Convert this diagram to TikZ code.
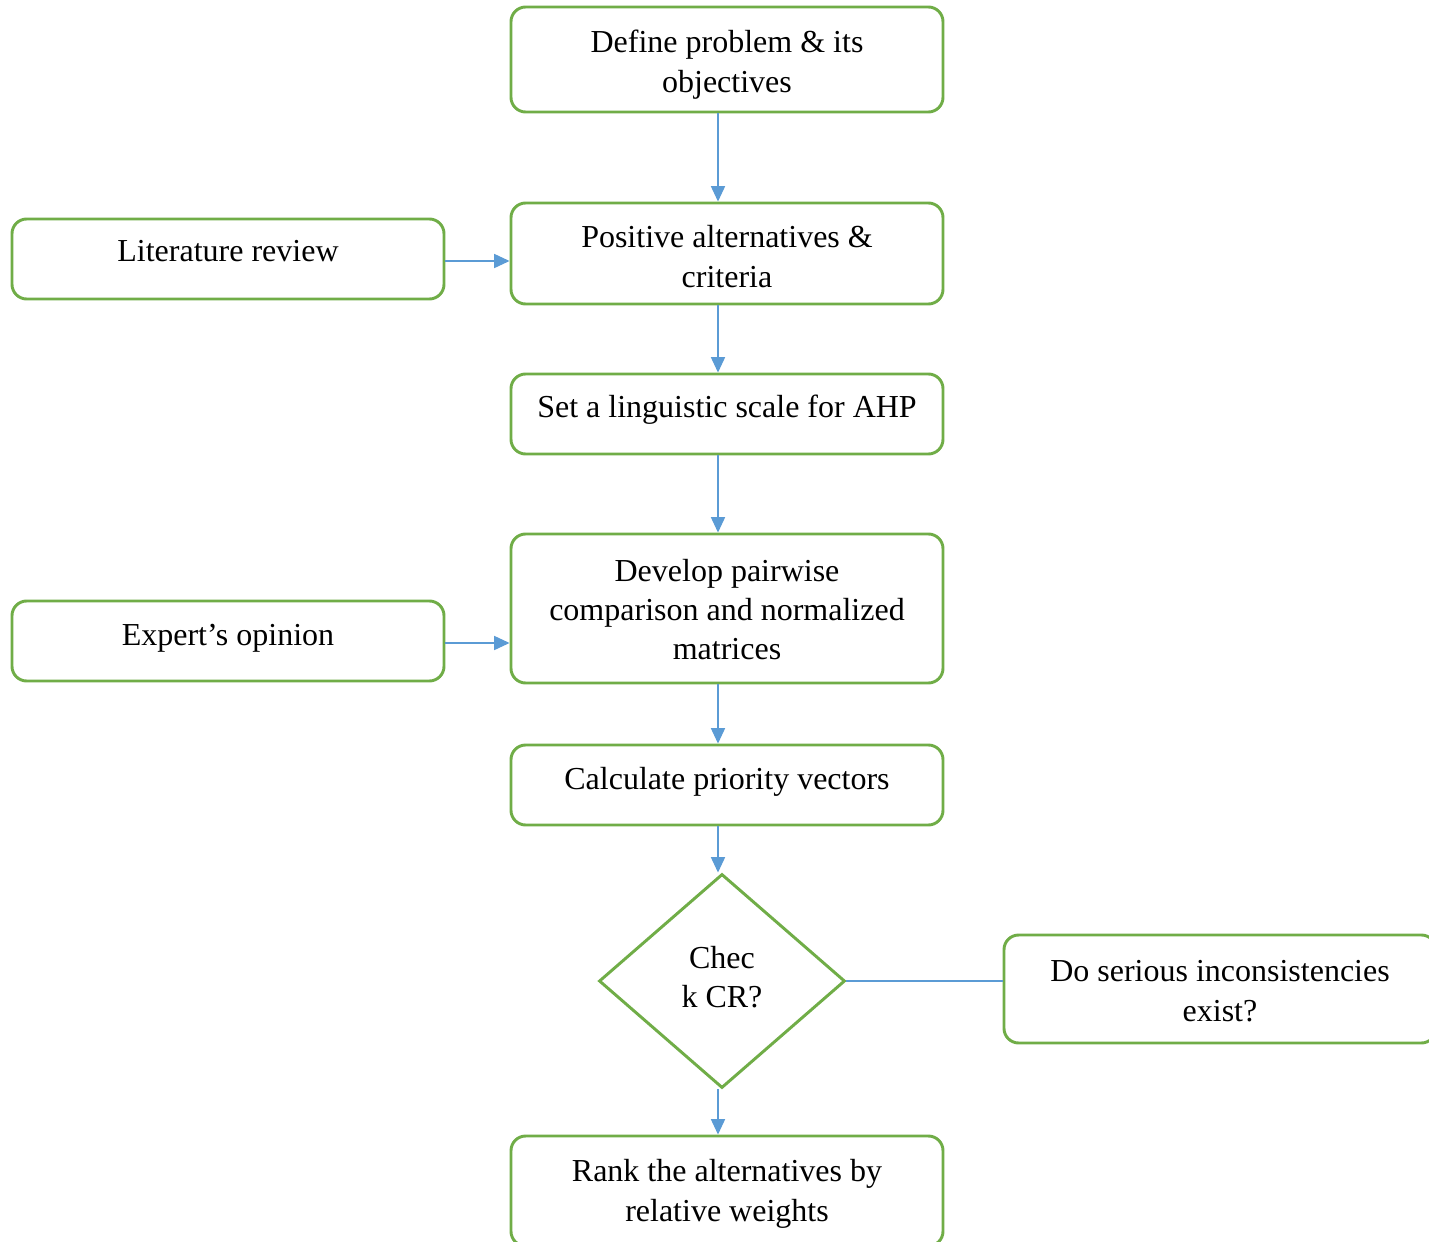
\documentclass[tikz,border=0pt]{standalone}
\usepackage{fontspec}
\setmainfont{Liberation Serif}
\usetikzlibrary{shapes.geometric,arrows.meta}
\definecolor{boxgreen}{HTML}{70AD47}
\definecolor{lineblue}{HTML}{5B9BD5}
\begin{document}
\begin{tikzpicture}[x=0.75pt,y=-0.75pt,
  box/.style={draw=boxgreen,line width=2.2pt,rounded corners=11pt,fill=white,
    minimum width=324pt,inner sep=0pt},
  dia/.style={draw=boxgreen,line width=2.2pt,diamond,fill=white,inner sep=0pt,
    minimum width=184.5pt,minimum height=160.5pt},
  txt/.style={inner sep=0pt,align=center,font=\fontsize{24pt}{29.5pt}\selectfont},
  arr/.style={draw=lineblue,line width=1.1pt,-{Triangle[length=11.5pt,width=10.5pt]}},
  ln/.style={draw=lineblue,line width=1.1pt}]
\useasboundingbox (0,0) rectangle (1429,1242);
\clip (0,0) rectangle (1429,1242);
\fill[white] (0,0) rectangle (1429,1242);
\coordinate (ax) at (718,0);
\node[box,minimum height=78.75pt] (define) at (727,59.5) {};
\node[box,minimum height=75.75pt] (positive) at (727,253.5) {};
\node[box,minimum height=60pt] (lit) at (228,259) {};
\node[box,minimum height=60pt] (set) at (727,414) {};
\node[box,minimum height=111.75pt] (develop) at (727,608.5) {};
\node[box,minimum height=60pt] (expert) at (228,641) {};
\node[box,minimum height=60pt] (calc) at (727,785) {};
\node[dia] (check) at (722,981) {};
\node[box,minimum height=81pt] (serious) at (1220,989) {};
\node[box,minimum height=82.5pt] (rank) at (727,1191) {};
\node[txt,shift={(0,5)}] (defineT) at (define.center) {Define problem \& its\\objectives};
\node[txt,shift={(0,3)}] (positiveT) at (positive.center) {Positive alternatives \&\\criteria};
\node[txt,shift={(0,-8)}] (litT) at (lit.center) {Literature review};
\node[txt,shift={(0,-4)}] (setT) at (set.center) {Set a linguistic scale for AHP};
\node[txt,shift={(0,1)}] (developT) at (develop.center) {Develop pairwise\\comparison and normalized\\matrices};
\node[txt,shift={(0,-3)}] (expertT) at (expert.center) {Expert’s opinion};
\node[txt,shift={(0,-3)}] (calcT) at (calc.center) {Calculate priority vectors};
\node[txt,shift={(0,-4)}] (checkT) at (check.center) {Chec\\k CR?};
\node[txt,shift={(0,2)}] (seriousT) at (serious.center) {Do serious inconsistencies\\exist?};
\node[txt,shift={(0,3)}] (rankT) at (rank.center) {Rank the alternatives by\\relative weights};
\draw[arr] (define.south -| ax) -- (positive.north -| ax);
\draw[arr] (positive.south -| ax) -- (set.north -| ax);
\draw[arr] (set.south -| ax) -- (develop.north -| ax);
\draw[arr] (develop.south -| ax) -- (calc.north -| ax);
\draw[arr] (calc.south -| ax) -- (check.north -| ax);
\draw[arr] (check.south -| ax) -- (rank.north -| ax);
\draw[arr] (lit.east) ++(0,2) coordinate (le) -- (le -| positive.west);
\draw[arr] (expert.east) ++(0,2) coordinate (ee) -- (ee -| develop.west);
\draw[ln] (check.east) -- (check.east -| serious.west);
\end{tikzpicture}
\end{document}
